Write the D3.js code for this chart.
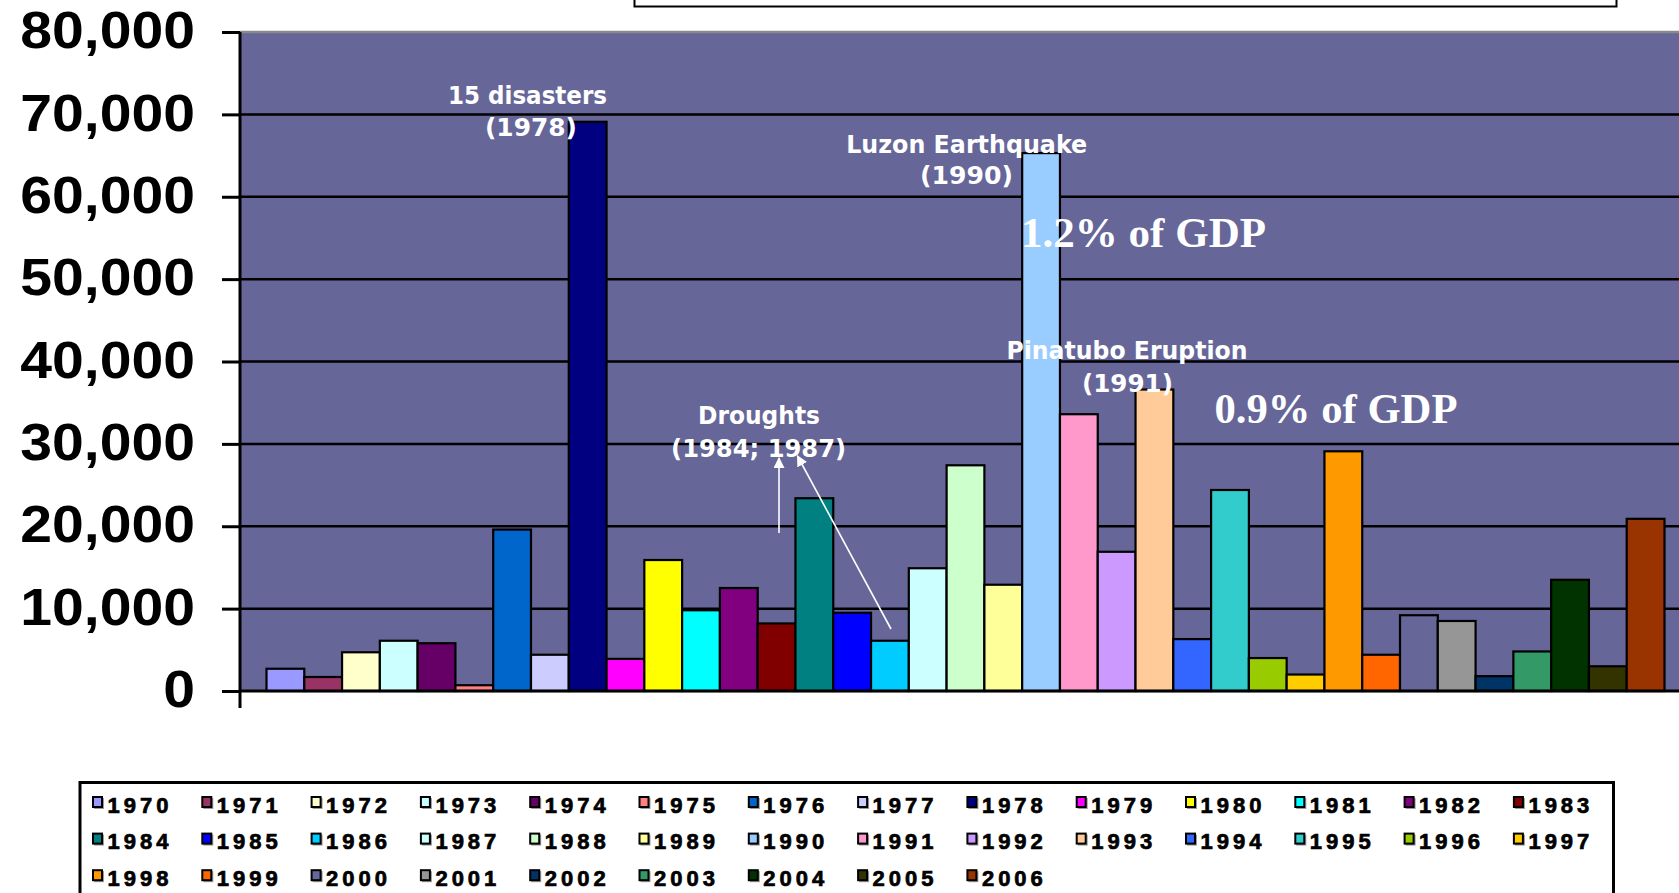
<!DOCTYPE html>
<html>
<head>
<meta charset="utf-8">
<script src="https://cdn.jsdelivr.net/npm/d3@7"></script>
<style>
  html, body { margin: 0; padding: 0; background: #ffffff; }
  svg { display: block; }
</style>
</head>
<body>
<svg id="chart" width="1679" height="893"></svg>
<script>
// Economic losses from disasters per year (Philippines), 1970–2006
const years = ["1970","1971","1972","1973","1974","1975","1976","1977","1978","1979",
               "1980","1981","1982","1983","1984","1985","1986","1987","1988","1989",
               "1990","1991","1992","1993","1994","1995","1996","1997","1998","1999",
               "2000","2001","2002","2003","2004","2005","2006"];

const losses = [2700, 1700, 4700, 6100, 5800, 700, 19600, 4400, 69100, 3900,
                15900, 9800, 12500, 8200, 23400, 9500, 6100, 14900, 27400, 12900,
                65300, 33600, 16900, 36600, 6300, 24400, 4000, 2000, 29100, 4400,
                9200, 8500, 1800, 4800, 13500, 3000, 20900];

const yearColors = ["#9999FF","#993366","#FFFFCC","#CCFFFF","#660066","#FF8080","#0066CC","#CCCCFF","#000080","#FF00FF",
                    "#FFFF00","#00FFFF","#800080","#800000","#008080","#0000FF","#00CCFF","#CCFFFF","#CCFFCC","#FFFF99",
                    "#99CCFF","#FF99CC","#CC99FF","#FFCC99","#3366FF","#33CCCC","#99CC00","#FFCC00","#FF9900","#FF6600",
                    "#666699","#969696","#003366","#339966","#003300","#333300","#993300"];

const yTicks = [0, 10000, 20000, 30000, 40000, 50000, 60000, 70000, 80000];

const svg = d3.select("#chart");

// Plot frame
const plot = { left: 240, right: 1679, top: 32, bottom: 691 };

const x = d3.scaleBand().domain(years).range([266.5, 1664.5]).padding(0);
const y = d3.scaleLinear().domain([0, 80000]).range([plot.bottom, plot.top]);

// Cropped title frame at the very top
svg.append("rect")
  .attr("x", 634.5).attr("y", -6).attr("width", 982).attr("height", 12.5)
  .attr("fill", "#ffffff").attr("stroke", "#000").attr("stroke-width", 2);

// Plot background
svg.append("rect")
  .attr("x", plot.left).attr("y", plot.top)
  .attr("width", plot.right - plot.left).attr("height", plot.bottom - plot.top)
  .attr("fill", "#666699");

// Horizontal gridlines
svg.append("g").selectAll("line")
  .data(yTicks.filter(d => d > 0))
  .join("line")
  .attr("x1", plot.left).attr("x2", plot.right)
  .attr("y1", d => y(d)).attr("y2", d => y(d))
  .attr("stroke", d => d === 80000 ? "#8a8a8a" : "#000")
  .attr("stroke-width", 2.5);

// Bars, one per year
svg.append("g").selectAll("rect")
  .data(years.map((yr, i) => ({ yr, v: losses[i], c: yearColors[i] })))
  .join("rect")
  .attr("x", d => x(d.yr))
  .attr("y", d => y(d.v))
  .attr("width", x.bandwidth())
  .attr("height", d => y(0) - y(d.v))
  .attr("fill", d => d.c)
  .attr("stroke", "#000")
  .attr("stroke-width", 2.2);

// Value axis
const yAxis = d3.axisLeft(y)
  .tickValues(yTicks)
  .tickSize(18)
  .tickPadding(0)
  .tickFormat(d3.format(","));

const gy = svg.append("g")
  .attr("transform", `translate(${plot.left},0)`)
  .call(yAxis);
gy.select(".domain").remove();
gy.selectAll(".tick line").attr("stroke", "#000").attr("stroke-width", 3);
gy.selectAll(".tick text")
  .attr("x", 0).attr("dy", null)
  .attr("dominant-baseline", "middle")
  .attr("text-anchor", "end")
  .attr("transform", "translate(-45,2) scale(1.12,1.02)")
  .style("font-family", "'Liberation Sans', Arial, sans-serif")
  .style("font-weight", "bold")
  .style("font-size", "51px")
  .attr("fill", "#000");

// Axis lines
svg.append("line")
  .attr("x1", plot.left).attr("x2", plot.left)
  .attr("y1", plot.top).attr("y2", 708)
  .attr("stroke", "#000").attr("stroke-width", 3);
svg.append("line")
  .attr("x1", plot.left).attr("x2", plot.right)
  .attr("y1", y(0)).attr("y2", y(0))
  .attr("stroke", "#000").attr("stroke-width", 3);

// Event labels
const labelFont = "'DejaVu Sans', Verdana, sans-serif";
const notes = [
  { t: "15 disasters",      cx: 527.5, by: 104,   w: 159 },
  { t: "(1978)",            cx: 531,   by: 136,   w: 92 },
  { t: "Luzon Earthquake",  cx: 966.7, by: 152.7, w: 241 },
  { t: "(1990)",            cx: 966.5, by: 184,   w: 93 },
  { t: "Pinatubo Eruption", cx: 1127,  by: 359,   w: 241 },
  { t: "(1991)",            cx: 1127.5,by: 391.5, w: 91 },
  { t: "Droughts",          cx: 759,   by: 424,   w: 122 },
  { t: "(1984; 1987)",      cx: 758.6, by: 456.5, w: 175 }
];
svg.append("g").selectAll("text")
  .data(notes)
  .join("text")
  .attr("x", d => d.cx - d.w / 2)
  .attr("y", d => d.by)
  .attr("textLength", d => d.w)
  .attr("lengthAdjust", "spacingAndGlyphs")
  .style("font-family", labelFont)
  .style("font-weight", "bold")
  .style("font-size", "25px")
  .attr("fill", "#ffffff")
  .text(d => d.t);

// Share of GDP labels
const gdpNotes = [
  { t: "1.2% of GDP", x0: 1021, by: 247, w: 245 },
  { t: "0.9% of GDP", x0: 1214.5, by: 423, w: 243 }
];
svg.append("g").selectAll("text")
  .data(gdpNotes)
  .join("text")
  .attr("x", d => d.x0)
  .attr("y", d => d.by)
  .attr("textLength", d => d.w)
  .attr("lengthAdjust", "spacingAndGlyphs")
  .style("font-family", "'Liberation Serif', 'Times New Roman', serif")
  .style("font-weight", "bold")
  .style("font-size", "43px")
  .attr("fill", "#ffffff")
  .text(d => d.t);

// Arrows pointing at the drought label
svg.append("defs").append("marker")
  .attr("id", "head")
  .attr("viewBox", "0 0 10 10")
  .attr("refX", 9).attr("refY", 5)
  .attr("markerWidth", 11).attr("markerHeight", 11)
  .attr("markerUnits", "userSpaceOnUse")
  .attr("orient", "auto")
  .append("path")
  .attr("d", "M0,0 L10,5 L0,10 Z")
  .attr("fill", "#ffffff");

const arrows = [
  { x1: 779, y1: 533, x2: 779, y2: 458 },
  { x1: 891, y1: 629, x2: 797.5, y2: 456 }
];
svg.append("g").selectAll("line")
  .data(arrows)
  .join("line")
  .attr("x1", d => d.x1).attr("y1", d => d.y1)
  .attr("x2", d => d.x2).attr("y2", d => d.y2)
  .attr("stroke", "#ffffff").attr("stroke-width", 1.6)
  .attr("marker-end", "url(#head)");

// Legend
const legend = svg.append("g");
legend.append("rect")
  .attr("x", 80).attr("y", 782.5).attr("width", 1533.5).attr("height", 130)
  .attr("fill", "#ffffff").attr("stroke", "#000").attr("stroke-width", 3);

const perRow = 14, colStep = 109.3, rowStep = 36.6;
const items = legend.selectAll("g.item")
  .data(years.map((yr, i) => ({ yr, c: yearColors[i], i })))
  .join("g")
  .attr("class", "item")
  .attr("transform", d => `translate(${92 + (d.i % perRow) * colStep},${796 + Math.floor(d.i / perRow) * rowStep})`);

items.append("rect")
  .attr("x", 2).attr("y", 2).attr("width", 10).attr("height", 11)
  .attr("fill", "#9a9a9a");
items.append("rect")
  .attr("x", 1).attr("y", 1).attr("width", 9).attr("height", 10)
  .attr("fill", d => d.c)
  .attr("stroke", "#000").attr("stroke-width", 2);

items.append("text")
  .attr("x", 15.5).attr("y", 16.5)
  .style("font-family", "'Liberation Sans', Arial, sans-serif")
  .style("font-weight", "bold")
  .style("font-size", "22px")
  .style("letter-spacing", "4px")
  .attr("fill", "#000")
  .attr("stroke", "#000")
  .attr("stroke-width", 0.7)
  .text(d => d.yr);
</script>
</body>
</html>
